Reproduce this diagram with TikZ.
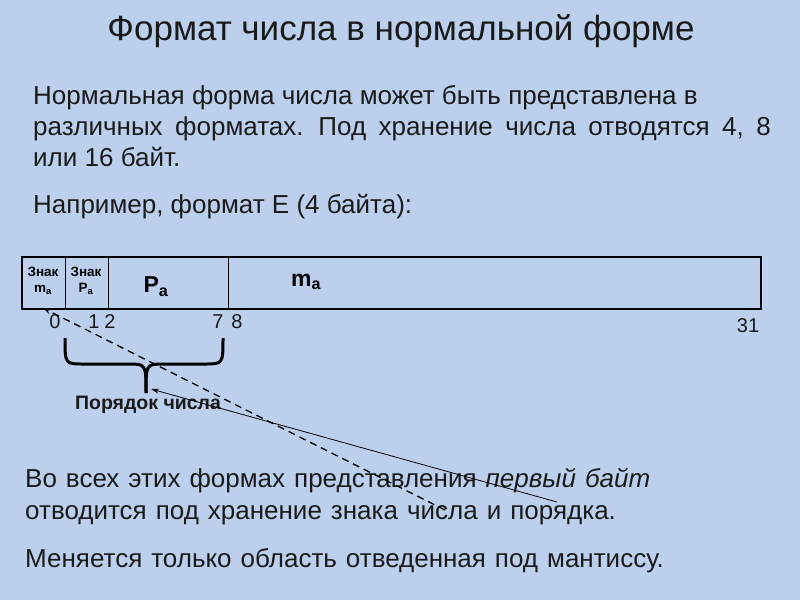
\documentclass[tikz,border=0pt]{standalone}
\usepackage{fontspec}
\setmainfont{Liberation Sans}
\usetikzlibrary{arrows.meta, positioning, calc}
\definecolor{cbg}{RGB}{188,208,238}
\definecolor{cink}{HTML}{1A1A1A}

\begin{document}
\begin{tikzpicture}[x=1pt, y=-1pt,
  txt/.style={anchor=base west, inner sep=0pt, text=cink, font=\fontsize{26}{26}\selectfont},
  bitno/.style={anchor=base, inner sep=0pt, text=cink, font=\fontsize{20}{20}\selectfont},
  cellsm/.style={align=center, inner sep=0pt, font=\bfseries\fontsize{13.5}{16}\selectfont},
  cellbig/.style={inner sep=0pt, font=\bfseries\fontsize{23}{23}\selectfont},
  pointer/.style={-{Stealth[length=8pt,width=5pt]}, line width=0.8pt}]
  \fill[cbg] (0,0) rectangle (800,600);
  \useasboundingbox (0,0) rectangle (800,600);

  % Title
  \node[anchor=base, inner sep=0pt, text=cink, font=\fontsize{35}{35}\selectfont] (title) at (401,40) {Формат числа в нормальной форме};

  % Intro text
  \node[txt] (intro1) at (33,104) {Нормальная форма числа может быть представлена в};
  \node[txt] (intro2) at (33,135) {\spaceskip=12.5pt различных форматах. Под хранение числа отводятся 4, 8};
  \node[txt] (intro3) at (33,166) {или 16 байт.};
  \node[txt] (example) at (33,213) {Например, формат Е (4 байта):};

  % Format E, 32 bits
  \draw[line width=2.5pt] (22,257) rectangle (761,309);
  \foreach \x in {65,108,228}
    \draw[line width=0.8pt] (\x,257) -- (\x,309);
  \node[cellsm] (sgnm) at (43,281) {Знак\\m\textsubscript{a}};
  \node[cellsm] (sgnp) at (86,281) {Знак\\P\textsubscript{a}};
  \node[cellbig] (pa) at (156,287) {P\textsubscript{a}};
  \node[cellbig] (ma) at (306,282) {m\textsubscript{a}};

  % Bit numbers
  \node[bitno] (b0) at (55,328) {0};
  \node[bitno] (b1) at (94,328) {1};
  \node[bitno] (b2) at (110,328) {2};
  \node[bitno] (b7) at (218,328) {7};
  \node[bitno] (b8) at (237,328) {8};
  \node[bitno] (b31) at (748,332) {31};

  % Brace under bits 1..7
  \draw[line width=3pt] (65,338) .. controls (65,364) .. (84,364) -- (128,364)
    .. controls (146,364) .. (146,393);
  \draw[line width=3pt] (223,338) .. controls (223,364) .. (204,364) -- (164,364)
    .. controls (146,364) .. (146,393);
  \node[inner sep=0pt, text=cink, font=\bfseries\fontsize{19.5}{19.5}\selectfont] (order) at (148,405) {Порядок числа};

  % Closing text
  \node[txt] (close1) at (25,487) {\spaceskip=9pt Во всех этих формах представления \textit{первый байт}};
  \node[txt] (close2) at (25,519) {\spaceskip=9pt отводится под хранение знака числа и порядка.};
  \node[txt] (close3) at (25,567) {\spaceskip=9pt Меняется только область отведенная под мантиссу.};

  % Pointers
  \coordinate (bit0) at (43,308);
  \coordinate (tip) at (151,389);
  \coordinate (fromA) at (445,510);
  \coordinate (fromB) at (557,502);
  \draw[pointer, line width=1.3pt, dash pattern=on 7pt off 5pt] (fromA) -- (bit0);
  \draw[pointer] (fromB) -- (tip);
\end{tikzpicture}
\end{document}
